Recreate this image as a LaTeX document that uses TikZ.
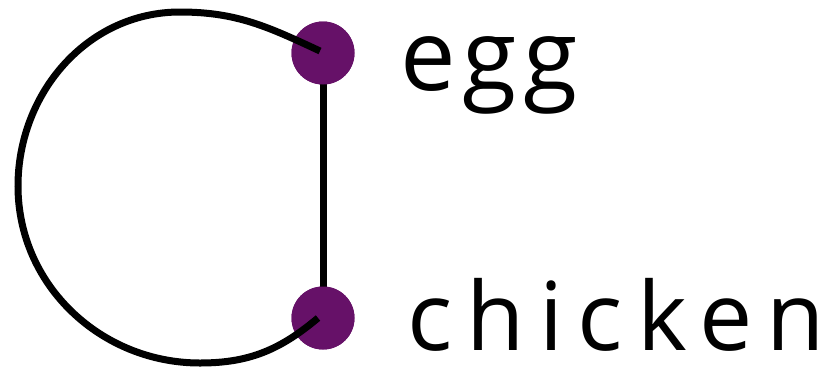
\documentclass[tikz,border=0pt]{standalone}
\usepackage{fontspec}
\setmainfont{Open Sans}
\newfontfamily\egglblfont{Open Sans}[LetterSpace=7]
\newfontfamily\chicklblfont{Open Sans}[LetterSpace=15]
\definecolor{dotpurple}{RGB}{102,17,104}

\begin{document}
\begin{tikzpicture}[x=1pt,y=-1pt,
  dot/.style={circle,fill=dotpurple,minimum size=63pt,inner sep=0pt},
  lbl/.style={anchor=base west,inner sep=0pt},
  edge/.style={line width=7pt}]
\useasboundingbox (0,0) rectangle (837,373);
\node[dot] (egg) at (323,53) {};
\node[dot] (chicken) at (323,318) {};
\node[lbl,font=\egglblfont\fontsize{99}{99}\selectfont] (egglbl) at (400,90) {egg};
\node[lbl,font=\chicklblfont\fontsize{95}{95}\selectfont] (chickenlbl) at (407,350) {chicken};
\draw[edge] (egg.center) -- (chicken.center);
\node[dot] at (egg) {};
\node[dot] at (chicken) {};
\draw[edge] (320,51) to[out=155,in=0] (180,12) to[out=180,in=90] (18,186)
  to[out=-90,in=180] (200,363) to[out=0,in=-140] (318,318);
\end{tikzpicture}
\end{document}
